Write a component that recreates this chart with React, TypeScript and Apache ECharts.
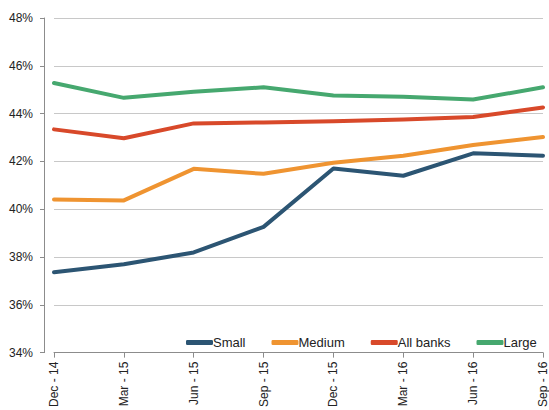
import React, { useEffect, useRef } from "react";
import * as echarts from "echarts";

const categories = ["Dec - 14", "Mar - 15", "Jun - 15", "Sep - 15", "Dec - 15", "Mar - 16", "Jun - 16", "Sep - 16"];
const small = [37.36, 37.7, 38.19, 39.26, 41.7, 41.4, 42.34, 42.24];
const medium = [40.41, 40.37, 41.69, 41.48, 41.94, 42.24, 42.69, 43.02];
const allBanks = [43.34, 42.97, 43.59, 43.63, 43.68, 43.75, 43.86, 44.26];
const large = [45.28, 44.66, 44.91, 45.1, 44.76, 44.71, 44.59, 45.1];
const seriesNames = ["Small", "Medium", "All banks", "Large"];
const colors = ["#2c5573", "#ef9431", "#d8492a", "#46a86f"];

export default function App() {
  const ref = useRef<HTMLDivElement>(null);
  useEffect(() => {
    document.body.style.margin = "0";
    const chart = echarts.init(ref.current!, null, { renderer: "svg" });
    const font = "Liberation Sans, Arial, sans-serif";
    const values = [small, medium, allBanks, large];
    chart.setOption({
      animation: false,
      backgroundColor: "#ffffff",
      grid: { left: 54, right: 5, top: 18, bottom: 52, containLabel: false },
      legend: {
        left: 181,
        top: 331,
        itemWidth: 27,
        itemHeight: 5,
        itemGap: 26,
        icon: "roundRect",
        data: seriesNames,
        textStyle: { fontFamily: font, fontSize: 13, color: "#222", padding: [0, 0, 0, -5] },
      },
      xAxis: {
        type: "category",
        boundaryGap: false,
        data: categories,
        axisLine: { lineStyle: { color: "#8c8c8c", width: 1 } },
        axisTick: { show: true, length: 5, lineStyle: { color: "#8c8c8c" } },
        axisLabel: {
          rotate: 90,
          interval: 0,
          margin: 9,
          fontFamily: font,
          fontSize: 12,
          color: "#222",
        },
        splitLine: { show: false },
      },
      yAxis: {
        type: "value",
        min: 34,
        max: 48,
        interval: 2,
        offset: 10,
        axisLine: { show: true, lineStyle: { color: "#8c8c8c", width: 1 } },
        axisTick: { show: true, length: 4, inside: false, lineStyle: { color: "#8c8c8c" } },
        axisLabel: {
          formatter: "{value}%",
          fontFamily: font,
          fontSize: 12,
          color: "#222",
          margin: 11,
        },
        splitLine: { show: true, lineStyle: { color: "#c8c8c8", width: 1 } },
      },
      series: seriesNames.map((name, i) => ({
        name,
        type: "line",
        data: values[i],
        symbol: "none",
        smooth: false,
        color: colors[i],
        lineStyle: { width: 4, color: colors[i], cap: "round", join: "round" },
      })),
    });
    return () => chart.dispose();
  }, []);
  return <div ref={ref} style={{ width: 549, height: 410 }} />;
}
